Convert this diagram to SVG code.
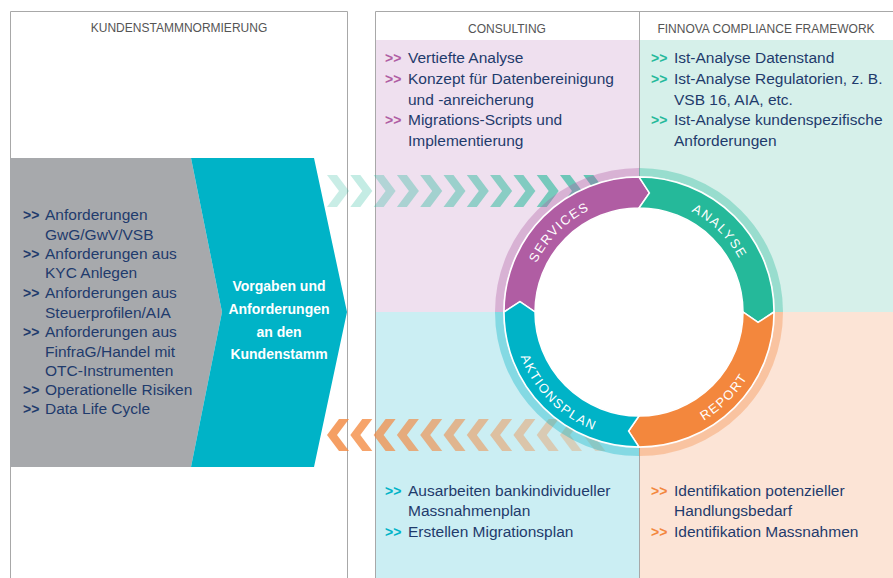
<svg xmlns="http://www.w3.org/2000/svg" xmlns:xlink="http://www.w3.org/1999/xlink" width="893" height="578" viewBox="0 0 893 578">
<style>
.body{font-family:"Liberation Sans",Arial,sans-serif;font-size:15.5px;fill:#1f3b6c}
.bul{font-family:"Liberation Sans",Arial,sans-serif;font-size:14px;font-weight:bold}
.hdr{font-family:"Liberation Sans",Arial,sans-serif;font-size:12px;fill:#555;text-anchor:middle}
.wb{font-family:"Liberation Sans",Arial,sans-serif;font-size:14px;font-weight:bold;fill:#fff;text-anchor:middle}
.ring{font-family:"Liberation Sans",Arial,sans-serif;font-size:13px;fill:#fff;letter-spacing:1.5px}
.bd{stroke:#a8a8a8;stroke-width:1;fill:none}
.seg{stroke:#fff;stroke-width:1.5;stroke-linejoin:miter}
.halo{fill:none;stroke-width:8;stroke-opacity:0.35}
</style>
<defs>
<path id="chevR" d="M0,0 H10 L22,16 L10,32 H0 L12,16 Z"/>
<path id="chevL" d="M22,0 H12 L0,16 L12,32 H22 L10,16 Z"/>
<path id="tpServ" d="M525.5,312 A113.5,113.5 0 0 1 639,198.5"/>
<path id="tpAna" d="M639,198.5 A113.5,113.5 0 0 1 752.5,312"/>
<path id="tpRep" d="M639,438.5 A126.5,126.5 0 0 0 765.5,312"/>
<path id="tpAkt" d="M512.5,312 A126.5,126.5 0 0 0 639,438.5"/>
</defs>

<!-- backgrounds -->
<g id="bg">
<rect x="376" y="40" width="263" height="272" fill="#efe0ef"/>
<rect x="639" y="40" width="254" height="272" fill="#d6f0ea"/>
<rect x="376" y="312" width="263" height="266" fill="#cbeef3"/>
<rect x="639" y="312" width="254" height="266" fill="#fce4d6"/>
</g>

<!-- borders -->
<g id="frames">
<path class="bd" d="M10.5,578 V11.5 H347.5 V578"/>
<path class="bd" d="M375.5,578 V11.5 H893"/>
<path class="bd" d="M639.5,11.5 V578"/>
</g>

<g id="headers">
<text class="hdr" x="179" y="32">KUNDENSTAMMNORMIERUNG</text>
<text class="hdr" x="507" y="33">CONSULTING</text>
<text class="hdr" x="766" y="33">FINNOVA COMPLIANCE FRAMEWORK</text>
</g>

<!-- left gray panel -->
<g id="anforderungen">
<polygon points="10,158 191,158 222,312 191,467 10,467" fill="#a7a9ac"/>
<text class="bul" x="23" y="220" fill="#1f3b6c">&gt;&gt;</text>
<text class="body" x="45" y="220">Anforderungen</text>
<text class="body" x="45" y="240">GwG/GwV/VSB</text>
<text class="bul" x="23" y="259" fill="#1f3b6c">&gt;&gt;</text>
<text class="body" x="45" y="259">Anforderungen aus</text>
<text class="body" x="45" y="278">KYC Anlegen</text>
<text class="bul" x="23" y="298" fill="#1f3b6c">&gt;&gt;</text>
<text class="body" x="45" y="298">Anforderungen aus</text>
<text class="body" x="45" y="318">Steuerprofilen/AIA</text>
<text class="bul" x="23" y="337" fill="#1f3b6c">&gt;&gt;</text>
<text class="body" x="45" y="337">Anforderungen aus</text>
<text class="body" x="45" y="357">FinfraG/Handel mit</text>
<text class="body" x="45" y="376">OTC-Instrumenten</text>
<text class="bul" x="23" y="395" fill="#1f3b6c">&gt;&gt;</text>
<text class="body" x="45" y="395">Operationelle Risiken</text>
<text class="bul" x="23" y="414" fill="#1f3b6c">&gt;&gt;</text>
<text class="body" x="45" y="414">Data Life Cycle</text>
</g>

<g id="vorgaben">
<polygon points="191,158 314,158 347,312 314,467 191,467 222,312" fill="#00b3c7"/>
<text class="wb" x="279" y="291">Vorgaben und</text>
<text class="wb" x="279" y="314">Anforderungen</text>
<text class="wb" x="279" y="337">an den</text>
<text class="wb" x="279" y="359">Kundenstamm</text>
</g>

<!-- flow chevrons -->
<g id="connectors">
<g fill="#26b99a">
<use href="#chevR" x="327" y="175" fill-opacity="0.25"/>
<use href="#chevR" x="350.3" y="175" fill-opacity="0.27"/>
<use href="#chevR" x="373.6" y="175" fill-opacity="0.3"/>
<use href="#chevR" x="396.9" y="175" fill-opacity="0.34"/>
<use href="#chevR" x="420.2" y="175" fill-opacity="0.38"/>
<use href="#chevR" x="443.5" y="175" fill-opacity="0.42"/>
<use href="#chevR" x="466.8" y="175" fill-opacity="0.46"/>
<use href="#chevR" x="490.1" y="175" fill-opacity="0.5"/>
<use href="#chevR" x="513.4" y="175" fill-opacity="0.55"/>
<use href="#chevR" x="536.7" y="175" fill-opacity="0.6"/>
<use href="#chevR" x="560" y="175" fill-opacity="0.65"/>
<use href="#chevR" x="583.3" y="175" fill-opacity="0.7"/>
</g>
<g fill="#f3873d">
<use href="#chevL" x="327" y="419" fill-opacity="0.8"/>
<use href="#chevL" x="350.3" y="419" fill-opacity="0.76"/>
<use href="#chevL" x="373.6" y="419" fill-opacity="0.7"/>
<use href="#chevL" x="396.9" y="419" fill-opacity="0.65"/>
<use href="#chevL" x="420.2" y="419" fill-opacity="0.6"/>
<use href="#chevL" x="443.5" y="419" fill-opacity="0.55"/>
<use href="#chevL" x="466.8" y="419" fill-opacity="0.5"/>
<use href="#chevL" x="490.1" y="419" fill-opacity="0.45"/>
<use href="#chevL" x="513.4" y="419" fill-opacity="0.4"/>
<use href="#chevL" x="536.7" y="419" fill-opacity="0.35"/>
<use href="#chevL" x="560" y="419" fill-opacity="0.3"/>
<use href="#chevL" x="583.3" y="419" fill-opacity="0.25"/>
</g>
</g>

<!-- cycle -->
<g id="cycle">
<circle cx="639" cy="312" r="104" fill="#fff"/>
<path class="halo" stroke="#b05da3" d="M499,312 A140,140 0 0 1 639,172"/>
<path class="halo" stroke="#25b99a" d="M639,172 A140,140 0 0 1 779,312"/>
<path class="halo" stroke="#f3873d" d="M779,312 A140,140 0 0 1 639,452"/>
<path class="halo" stroke="#00b3c7" d="M639,452 A140,140 0 0 1 499,312"/>
</g>
<g id="services">
<path class="seg" fill="#b05da3" d="M504,312 A135,135 0 0 1 639,177 L649.42,192.95 L639,208 A104,104 0 0 0 535,312 L519.95,301.58 Z"/>
<text class="ring"><textPath href="#tpServ" startOffset="50%" text-anchor="middle">SERVICES</textPath></text>
</g>
<g id="analyse">
<path class="seg" fill="#25b99a" d="M639,177 A135,135 0 0 1 774,312 L758.05,322.42 L743,312 A104,104 0 0 0 639,208 L649.42,192.95 Z"/>
<text class="ring"><textPath href="#tpAna" startOffset="50%" text-anchor="middle">ANALYSE</textPath></text>
</g>
<g id="report">
<path class="seg" fill="#f3873d" d="M774,312 A135,135 0 0 1 639,447 L628.58,431.05 L639,416 A104,104 0 0 0 743,312 L758.05,322.42 Z"/>
<text class="ring"><textPath href="#tpRep" startOffset="50%" text-anchor="middle">REPORT</textPath></text>
</g>
<g id="aktionsplan">
<path class="seg" fill="#00b3c7" d="M639,447 A135,135 0 0 1 504,312 L519.95,301.58 L535,312 A104,104 0 0 0 639,416 L628.58,431.05 Z"/>
<text class="ring"><textPath href="#tpAkt" startOffset="50%" text-anchor="middle">AKTIONSPLAN</textPath></text>
</g>

<!-- panel texts -->
<g id="consulting-text">
<text class="bul" x="385" y="63" fill="#b05da3">&gt;&gt;</text>
<text class="body" x="408" y="63">Vertiefte Analyse</text>
<text class="bul" x="385" y="84" fill="#b05da3">&gt;&gt;</text>
<text class="body" x="408" y="84">Konzept für Datenbereinigung</text>
<text class="body" x="408" y="105">und -anreicherung</text>
<text class="bul" x="385" y="125" fill="#b05da3">&gt;&gt;</text>
<text class="body" x="408" y="125">Migrations-Scripts und</text>
<text class="body" x="408" y="146">Implementierung</text>
</g>
<g id="framework-text">
<text class="bul" x="651" y="63" fill="#25b99a">&gt;&gt;</text>
<text class="body" x="674" y="63">Ist-Analyse Datenstand</text>
<text class="bul" x="651" y="84" fill="#25b99a">&gt;&gt;</text>
<text class="body" x="674" y="84">Ist-Analyse Regulatorien, z. B.</text>
<text class="body" x="674" y="105">VSB 16, AIA, etc.</text>
<text class="bul" x="651" y="125" fill="#25b99a">&gt;&gt;</text>
<text class="body" x="674" y="125">Ist-Analyse kundenspezifische</text>
<text class="body" x="674" y="146">Anforderungen</text>
</g>
<g id="aktionsplan-text">
<text class="bul" x="385" y="496" fill="#00b3c7">&gt;&gt;</text>
<text class="body" x="408" y="496">Ausarbeiten bankindividueller</text>
<text class="body" x="408" y="516">Massnahmenplan</text>
<text class="bul" x="385" y="537" fill="#00b3c7">&gt;&gt;</text>
<text class="body" x="408" y="537">Erstellen Migrationsplan</text>
</g>
<g id="report-text">
<text class="bul" x="651" y="496" fill="#f3873d">&gt;&gt;</text>
<text class="body" x="674" y="496">Identifikation potenzieller</text>
<text class="body" x="674" y="516">Handlungsbedarf</text>
<text class="bul" x="651" y="537" fill="#f3873d">&gt;&gt;</text>
<text class="body" x="674" y="537">Identifikation Massnahmen</text>
</g>
</svg>
